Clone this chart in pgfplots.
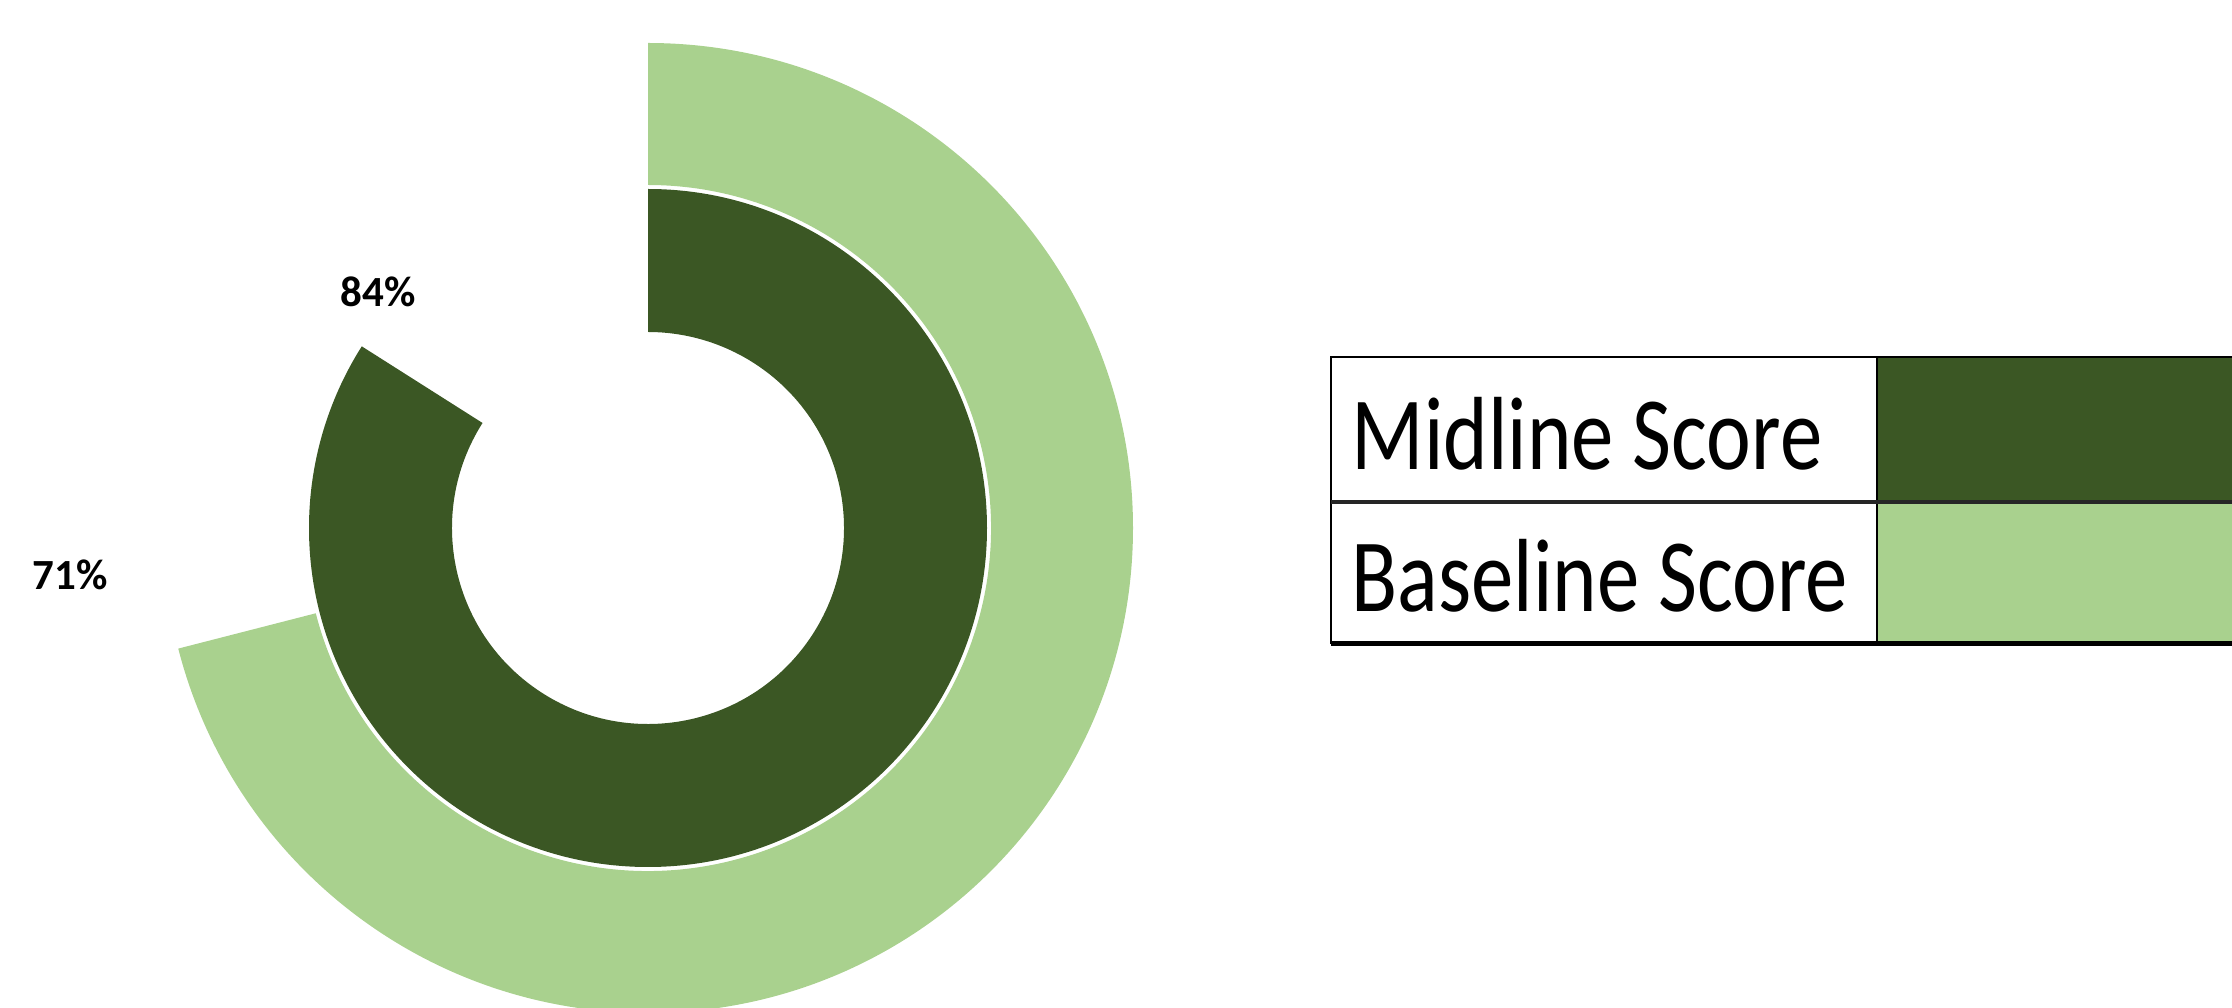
\documentclass[border=0pt]{standalone}
\usepackage{pgfplots}
\pgfplotsset{compat=1.18}
\usepackage{pgfplotstable}
\usepackage{graphicx}
\usepackage{fontspec}
\setmainfont{Carlito}
\definecolor{midgreen}{HTML}{3B5724}
\definecolor{basegreen}{HTML}{A9D18E}

\pgfplotstableread{
series value
Baseline 71
Midline 84
}\scores

\begin{document}
\begin{tikzpicture}
\pgfplotstablegetelem{0}{value}\of\scores \let\vBase\pgfplotsretval
\pgfplotstablegetelem{1}{value}\of\scores \let\vMid\pgfplotsretval
\pgfmathsetmacro\eBase{90-3.6*\vBase}
\pgfmathsetmacro\eMid{90-3.6*\vMid}
\begin{axis}[x=0.25pt,y=0.25pt,xmin=0,xmax=2232,ymin=0,ymax=1008,
  hide axis,enlargelimits=false,clip=true]
\coordinate (c) at (axis cs:648,480);
\coordinate (ll) at (axis cs:0,0);
\coordinate (ur) at (axis cs:2232,1008);
% Baseline ring (outer)
\fill[basegreen] ([shift={(90:121.25pt)}]c) arc[start angle=90,end angle=\eBase,radius=121.25pt]
  -- ([shift={(\eBase:85.75pt)}]c) arc[start angle=\eBase,end angle=90,radius=85.75pt] -- cycle;
% Midline ring (inner)
\fill[midgreen] ([shift={(90:84.75pt)}]c) arc[start angle=90,end angle=\eMid,radius=84.75pt]
  -- ([shift={(\eMid:49pt)}]c) arc[start angle=\eMid,end angle=90,radius=49pt] -- cycle;
% labels
\node[font=\bfseries\fontsize{10.75}{13}\selectfont] at (axis cs:378,716) {\vMid\%};
\node[font=\bfseries\fontsize{10.75}{13}\selectfont] at (axis cs:70,433) {\vBase\%};
% legend table
\addplot[fill=midgreen,draw=none] coordinates {(1877,506) (2232,506) (2232,650) (1877,650)} -- cycle;
\addplot[fill=basegreen,draw=none] coordinates {(1877,364) (2232,364) (2232,506) (1877,506)} -- cycle;
\draw[black,line width=0.5pt] (axis cs:1331,364) -- (axis cs:1331,651) -- (axis cs:2232,651);
\draw[black,line width=0.6pt] (axis cs:1877,364) -- (axis cs:1877,651);
\draw[black!85,line width=1pt] (axis cs:1331,506) -- (axis cs:2232,506);
\draw[black,line width=1.25pt] (axis cs:1331,364) -- (axis cs:2232,364);
\node[anchor=base west,inner sep=0pt] at (axis cs:1351,538)
  {\scalebox{0.815}[1]{\fontsize{26}{30}\selectfont Midline Score}};
\node[anchor=base west,inner sep=0pt] at (axis cs:1351,396)
  {\scalebox{0.815}[1]{\fontsize{26}{30}\selectfont Baseline Score}};
\end{axis}
\pgfresetboundingbox
\path (ll) rectangle (ur);
\end{tikzpicture}
\end{document}
